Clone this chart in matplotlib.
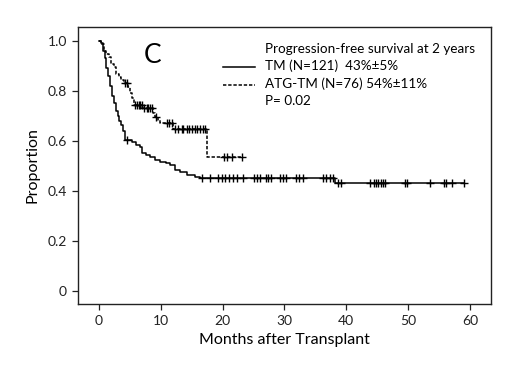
import numpy as np
import matplotlib
matplotlib.use("Agg")
import matplotlib.pyplot as plt

plt.rcParams['font.family'] = ['Lato', 'DejaVu Sans']

# TM arm (solid) step curve
tm_times = [0, 0.3, 0.6, 0.9, 1.2, 1.5, 1.8, 2.1, 2.4, 2.7, 3.0, 3.3, 3.6, 3.9, 4.2,
            5.3, 6.0, 6.6, 6.9, 7.6, 8.3, 9.1, 9.9, 10.8, 11.5, 12.3, 13.1, 14.2,
            15.5, 16.3, 38.2]
tm_surv = [1.0, 0.99, 0.96, 0.93, 0.89, 0.86, 0.82, 0.78, 0.75, 0.72, 0.70, 0.68,
           0.665, 0.64, 0.605, 0.595, 0.585, 0.577, 0.55, 0.545, 0.537, 0.524,
           0.515, 0.51, 0.504, 0.484, 0.475, 0.464, 0.457, 0.453, 0.431]
tm_end = 59.0
tm_censor = [4.5, 16.6, 18.0, 19.3, 19.9, 20.4, 21.0, 21.7, 22.3, 23.3, 25.1, 25.5,
             26.0, 27.0, 27.4, 27.9, 29.3, 29.7, 30.3, 31.9, 32.4, 33.0, 36.2, 36.8,
             37.4, 37.9, 38.6, 39.1, 43.9, 44.5, 44.8, 45.2, 45.6, 46.0, 46.3, 49.5,
             49.9, 53.5, 55.8, 56.1, 57.1, 59.0]

# ATG-TM arm (dashed) step curve
atg_times = [0, 0.4, 0.8, 1.2, 1.6, 2.0, 2.4, 2.8, 3.2, 3.6, 4.0, 4.7, 5.0, 5.3, 5.6,
             7.0, 8.8, 9.0, 9.6, 9.9, 12.0, 17.4]
atg_surv = [1.0, 0.987, 0.96, 0.947, 0.934, 0.908, 0.895, 0.868, 0.855, 0.842, 0.829,
            0.816, 0.79, 0.77, 0.744, 0.731, 0.71, 0.697, 0.684, 0.67, 0.646, 0.537]
atg_end = 23.2
atg_censor = [4.2, 4.5, 5.8, 6.1, 6.4, 6.6, 6.9, 7.2, 7.7, 8.0, 8.3, 8.5, 9.3, 11.0,
              11.4, 11.8, 12.3, 12.8, 13.4, 13.6, 14.2, 14.5, 15.0, 15.5, 15.8, 16.3,
              16.9, 17.2, 20.2, 20.7, 21.5, 23.1]

x_ticks = [0, 10, 20, 30, 40, 50, 60]
y_ticks = [0, 0.2, 0.4, 0.6, 0.8, 1.0]
y_ticklabels = ['0', '0.2', '0.4', '0.6', '0.8', '1.0']

legend_title = 'Progression-free survival at 2 years'
legend_labels = ['TM (N=121)  43%\u00b15%', 'ATG-TM (N=76) 54%\u00b111%']
p_text = 'P= 0.02'

fig = plt.figure(figsize=(5.2, 3.9), dpi=100)
ax = fig.add_axes([0.15, 0.2205, 0.794, 0.7105])


def step_at(times, surv, t):
    idx = np.searchsorted(np.asarray(times), np.asarray(t), side='right') - 1
    return np.asarray(surv)[idx]


def draw(times, surv, end, censor, ls, dashes=None):
    xs = list(times) + [end]
    ys = list(surv) + [surv[-1]]
    line, = ax.step(xs, ys, where='post', color='black', lw=1.1, ls=ls)
    if dashes:
        line.set_dashes(dashes)
    cy = step_at(times, surv, censor)
    ax.plot(censor, cy, ls='none', marker='+', color='black', ms=6, mew=1.0)
    return line


l1 = draw(tm_times, tm_surv, tm_end, tm_censor, '-')
l2 = draw(atg_times, atg_surv, atg_end, atg_censor, '--', dashes=(2.2, 1.2))

ax.set_xlim(-3.4, 63.4)
ax.set_ylim(-0.052, 1.055)
ax.set_xticks(x_ticks)
ax.set_yticks(y_ticks)
ax.set_yticklabels(y_ticklabels)
ax.tick_params(direction='out', length=4, width=0.9, labelsize=10, colors='#222222',
               pad=4)
for s in ax.spines.values():
    s.set_linewidth(1.0)
    s.set_color('#222222')

ax.set_xlabel('Months after Transplant', fontsize=11.5, labelpad=4)
ax.set_ylabel('Proportion', fontsize=11.5, labelpad=6)

ax.text(8.6, 0.94, 'C', fontsize=19, ha='center', va='center')

# legend drawn manually
tr = ax.transAxes
fs = 9.7
ax.text(0.453, 0.921, legend_title, transform=tr, fontsize=fs, va='center', ha='left')
ax.text(0.453, 0.859, legend_labels[0], transform=tr, fontsize=fs, va='center', ha='left')
ax.text(0.453, 0.796, legend_labels[1], transform=tr, fontsize=fs, va='center', ha='left')
ax.text(0.453, 0.733, p_text, transform=tr, fontsize=fs, va='center', ha='left')
ax.plot([0.351, 0.429], [0.855, 0.855], transform=tr, color='black', lw=1.1)
ld, = ax.plot([0.351, 0.429], [0.791, 0.791], transform=tr, color='black', lw=1.1, ls='--')
ld.set_dashes((2.2, 1.2))

fig.savefig('out.png', dpi=100)
